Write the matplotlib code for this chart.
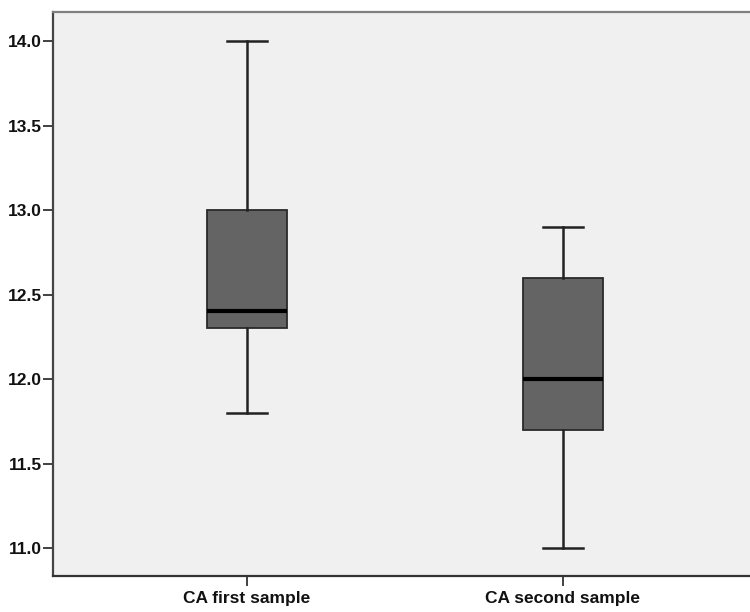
import matplotlib
matplotlib.use("Agg")
import matplotlib.pyplot as plt

# Summary statistics for each sample
categories = ["CA first sample", "CA second sample"]
whisker_low = [11.8, 11.0]
q1 = [12.3, 11.7]
median = [12.4, 12.0]
q3 = [13.0, 12.6]
whisker_high = [14.0, 12.9]
yticks = [11.0, 11.5, 12.0, 12.5, 13.0, 13.5, 14.0]

plt.rcParams["font.family"] = ["Liberation Sans", "DejaVu Sans"]

fig = plt.figure(figsize=(7.5, 6.12), dpi=100)
ax = fig.add_axes([53 / 750, 1 - 576 / 612, 697 / 750, (576 - 12) / 612])
ax.set_facecolor("#F0F0F0")

stats = [
    dict(label=c, whislo=lo, q1=a, med=m, q3=b, whishi=hi, fliers=[])
    for c, lo, a, m, b, hi in zip(categories, whisker_low, q1, median, q3, whisker_high)
]
positions = [1, 2]
ax.bxp(
    stats,
    positions=positions,
    widths=0.253,
    patch_artist=True,
    showfliers=False,
    boxprops=dict(facecolor="#646464", edgecolor="#2a2a2a", linewidth=1.3),
    medianprops=dict(color="black", linewidth=3),
    whiskerprops=dict(color="#222222", linewidth=1.8),
    capprops=dict(color="#222222", linewidth=1.8),
)

ax.set_xlim(1 - 194 / 316, 2 + 187 / 316)
ax.set_ylim(11 - 28 / 169, 14 + 29 / 169)
ax.set_yticks(yticks)
ax.set_yticklabels([f"{v:.1f}" for v in yticks])
ax.set_xticks(positions)
ax.set_xticklabels(categories)

for lab in ax.get_yticklabels() + ax.get_xticklabels():
    lab.set_fontweight("bold")
    lab.set_fontsize(12.5)
    lab.set_color("#111111")

ax.tick_params(axis="both", length=7, width=1.3, color="#333333", pad=1)
ax.tick_params(axis="x", pad=4)

ax.spines["left"].set_color("#444444")
ax.spines["bottom"].set_color("#333333")
ax.spines["top"].set_color("#808080")
ax.spines["right"].set_visible(False)
for s in ["left", "bottom", "top"]:
    ax.spines[s].set_linewidth(1.6)

fig.savefig("out.png", dpi=100, facecolor="white")
